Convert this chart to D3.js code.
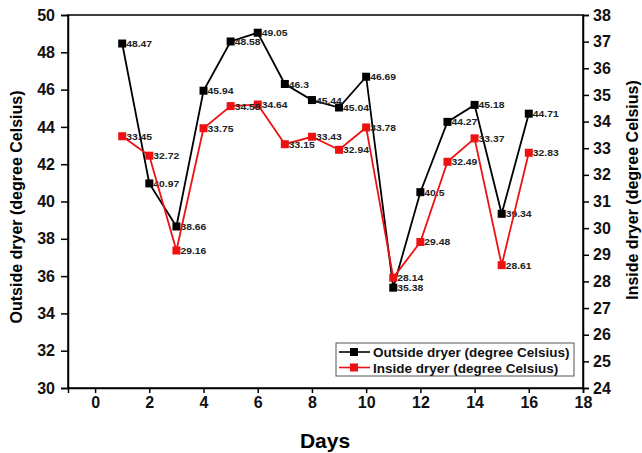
<!DOCTYPE html>
<html>
<head>
<meta charset="utf-8">
<script src="https://d3js.org/d3.v7.min.js"></script>
<style>
  body { margin: 0; background: #fff; }
  text { font-family: "Liberation Sans", Arial, sans-serif; font-weight: bold; }
</style>
</head>
<body>
<div id="chart"></div>
<script>
// data
var days = [1,2,3,4,5,6,7,8,9,10,11,12,13,14,15,16];
var outside = [48.47,40.97,38.66,45.94,48.58,49.05,46.3,45.44,45.04,46.69,35.38,40.5,44.27,45.18,39.34,44.71];
var inside = [33.45,32.72,29.16,33.75,34.58,34.64,33.15,33.43,32.94,33.78,28.14,29.48,32.49,33.37,28.61,32.83];
var xTicks = [0,2,4,6,8,10,12,14,16,18];
var leftTicks = [30,32,34,36,38,40,42,44,46,48,50];
var rightTicks = [24,25,26,27,28,29,30,31,32,33,34,35,36,37,38];

var width = 642, height = 453;
var plotL = 68, plotR = 583, plotT = 15, plotB = 388;
var red = "#ee1111";

var svg = d3.select("#chart").append("svg")
  .attr("width", width).attr("height", height);

var x = d3.scaleLinear().domain([-1, 18]).range([plotL, plotR]);
var yL = d3.scaleLinear().domain([30, 50]).range([plotB, plotT]);
var yR = d3.scaleLinear().domain([24, 38]).range([plotB, plotT]);

// frame
svg.append("rect")
  .attr("x", plotL).attr("y", plotT)
  .attr("width", plotR - plotL).attr("height", plotB - plotT)
  .attr("fill", "none").attr("stroke", "#000").attr("stroke-width", 1.5);

// axes
var axB = svg.append("g").attr("transform", "translate(0," + plotB + ")")
  .call(d3.axisBottom(x).tickValues(xTicks).tickSizeOuter(0).tickSize(5).tickPadding(4));
var axL = svg.append("g").attr("transform", "translate(" + plotL + ",0)")
  .call(d3.axisLeft(yL).tickValues(leftTicks).tickSizeOuter(0).tickSize(7).tickPadding(6));
var axR = svg.append("g").attr("transform", "translate(" + plotR + ",0)")
  .call(d3.axisRight(yR).tickValues(rightTicks).tickSizeOuter(0).tickSize(6).tickPadding(4));

[axB, axL, axR].forEach(function(a){
  a.select(".domain").attr("stroke-width", 1.5);
  a.selectAll(".tick line").attr("stroke-width", 1.5);
  a.selectAll(".tick text").style("font-size", "16px").attr("fill", "#111");
});

// axis titles
svg.append("text").text("Days")
  .attr("x", 325).attr("y", 448)
  .attr("text-anchor", "middle").style("font-size", "21px");
svg.append("text").text("Outside dryer (degree Celsius)")
  .attr("transform", "translate(22,207) rotate(-90)")
  .attr("text-anchor", "middle").style("font-size", "16px");
svg.append("text").text("Inside dryer (degree Celsius)")
  .attr("transform", "translate(638,190) rotate(-90)")
  .attr("text-anchor", "middle").style("font-size", "16px");

function drawSeries(vals, yScale, color) {
  var pts = days.map(function(d, i){ return [d, vals[i]]; });
  var line = d3.line().x(function(p){ return x(p[0]); }).y(function(p){ return yScale(p[1]); });
  svg.append("path").datum(pts)
    .attr("d", line).attr("fill", "none")
    .attr("stroke", color).attr("stroke-width", 1.8);
  svg.append("g").selectAll("rect").data(pts).enter().append("rect")
    .attr("x", function(p){ return x(p[0]) - 4; })
    .attr("y", function(p){ return yScale(p[1]) - 4; })
    .attr("width", 8).attr("height", 8)
    .attr("fill", color);
  svg.append("g").selectAll("text").data(pts).enter().append("text")
    .attr("transform", function(p){
      return "translate(" + (x(p[0]) + 4) + "," + (yScale(p[1]) + 3.5) + ") scale(1.15,1)";
    })
    .style("font-size", "9px").attr("fill", "#222")
    .text(function(p){ return p[1]; });
}

drawSeries(outside, yL, "#000");
drawSeries(inside, yR, red);

// legend
var lg = svg.append("g");
lg.append("rect").attr("x", 336).attr("y", 343).attr("width", 238).attr("height", 33)
  .attr("fill", "#fff").attr("stroke", "#555").attr("stroke-width", 1);
var items = [["Outside dryer (degree Celsius)", "#000"], ["Inside dryer (degree Celsius)", red]];
items.forEach(function(it, i){
  var cy = 352 + i * 15.5;
  lg.append("line").attr("x1", 339).attr("x2", 370).attr("y1", cy).attr("y2", cy)
    .attr("stroke", it[1]).attr("stroke-width", 1.6);
  lg.append("rect").attr("x", 350).attr("y", cy - 4).attr("width", 8).attr("height", 8).attr("fill", it[1]);
  lg.append("text").text(it[0]).attr("x", 373).attr("y", cy + 5)
    .style("font-size", "13.5px").attr("fill", "#111");
});
</script>
</body>
</html>
